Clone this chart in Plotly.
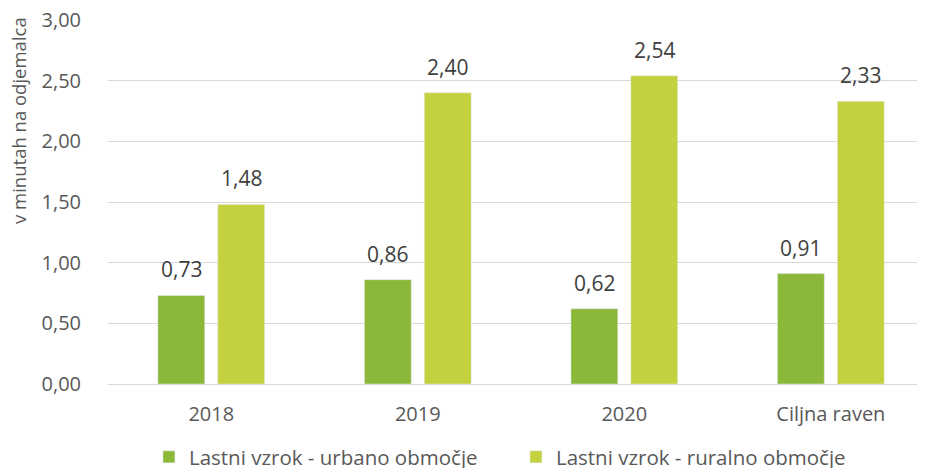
import plotly.graph_objects as go

categories = ["2018", "2019", "2020", "Ciljna raven"]
urban = [0.73, 0.86, 0.62, 0.91]
rural = [1.48, 2.40, 2.54, 2.33]
series_names = ["Lastni vzrok - urbano območje", "Lastni vzrok - ruralno območje"]
y_ticks = [0, 0.5, 1.0, 1.5, 2.0, 2.5, 3.0]
y_title = "v minutah na odjemalca"

c_urban = "#8CB83A"
c_rural = "#C4D13E"

fig = go.Figure()
fig.add_trace(go.Bar(x=categories, y=urban, name=series_names[0], marker_color=c_urban))
fig.add_trace(go.Bar(x=categories, y=rural, name=series_names[1], marker_color=c_rural))

def fmt(v):
    return f"{v:.2f}".replace(".", ",")

for vals, xs in ((urban, -30), (rural, 30)):
    for i, v in enumerate(vals):
        fig.add_annotation(x=i, y=v, text=fmt(v), showarrow=False, yanchor="bottom",
                           xshift=xs, yshift=10, font=dict(size=21, color="#404040"))

fig.add_annotation(text=y_title, textangle=-90, xref="paper", yref="paper",
                   x=0, y=1, xanchor="center", yanchor="middle",
                   xshift=-90, yshift=-101, showarrow=False,
                   font=dict(size=18.5, color="#595959"))

fig.update_layout(
    width=917, height=460,
    margin=dict(l=100, r=0, t=12, b=84, autoexpand=False),
    plot_bgcolor="white", paper_bgcolor="white",
    separators=", ",
    barmode="group", bargap=0.42, bargroupgap=0.217,
    font=dict(family="Open Sans, sans-serif", color="#595959", size=20),
    showlegend=True,
    legend=dict(orientation="h", xref="container", yref="container",
                x=0.1537, xanchor="left", y=0.0239, yanchor="middle",
                font=dict(size=20.5, color="#595959"), entrywidth=322, entrywidthmode="pixels",
                itemwidth=30, tracegroupgap=0),
)
fig.update_xaxes(type="category", range=[-0.5, 3.456], showgrid=False,
                 showline=True, linecolor="#d9d9d9", linewidth=1,
                 ticks="", ticklabelstandoff=12, tickfont=dict(size=20, color="#595959"))
fig.update_yaxes(range=[0, 3.0001], tickvals=y_ticks, tickformat=".2f",
                 showgrid=True, gridcolor="#d9d9d9", gridwidth=1, zeroline=False,
                 ticklabeloverflow="allow",
                 ticks="", ticklabelstandoff=26, tickfont=dict(size=20, color="#595959"))

fig.write_html("out.html")
